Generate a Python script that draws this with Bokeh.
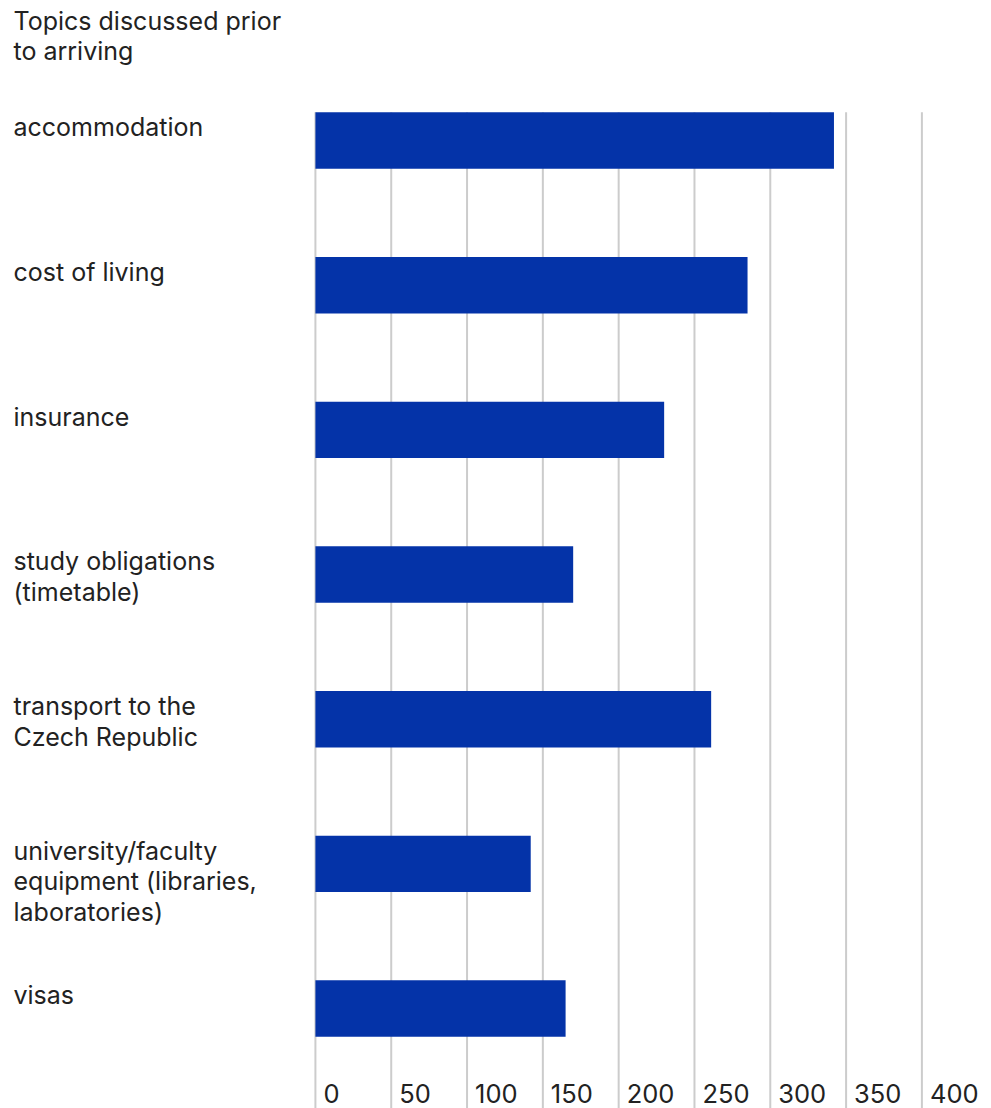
from bokeh.plotting import figure
from bokeh.models import Range1d, ColumnDataSource, LabelSet, Label
from bokeh.core.properties import value
from bokeh.embed import file_html
from bokeh.resources import INLINE

# ---- data ----
title_text = "Topics discussed prior\nto arriving"
categories = [
    "accommodation",
    "cost of living",
    "insurance",
    "study obligations\n(timetable)",
    "transport to the\nCzech Republic",
    "university/faculty\nequipment (libraries,\nlaboratories)",
    "visas",
]
values = [342, 285, 230, 170, 261, 142, 165]
tick_values = [0, 50, 100, 150, 200, 250, 300, 350, 400]
tick_labels = ["0", "50", "100", "150", "200", "250", "300", "350", "400"]

# ---- layout ----
W, H = 991, 1108
FONT = "Inter"
FS = "25px"
TICK_FS = "25.5px"
LH = 1.02
TEXT_COLOR = "#222222"
BAR_COLOR = "#0433a8"
GRID_COLOR = "#cccccc"

n = len(categories)
idx = list(range(n))
bar_h = 0.39

p = figure(width=W, height=H, output_backend="svg", toolbar_location=None,
           x_range=Range1d(-207.7, 445.9), y_range=Range1d(6.691, -0.968),
           min_border=0, min_border_left=0, min_border_right=0,
           min_border_top=0, min_border_bottom=0)
p.axis.visible = False
p.grid.visible = False
p.outline_line_color = None
p.background_fill_color = "white"
p.border_fill_color = "white"

# vertical grid lines from top of first bar to bottom
g_top = idx[0] - bar_h / 2
g_bot = p.y_range.start
p.segment(x0=tick_values, x1=tick_values, y0=[g_top] * len(tick_values),
          y1=[g_bot] * len(tick_values), line_color=GRID_COLOR, line_width=2)

# bars
src = ColumnDataSource(dict(y=idx, right=values, cat=categories,
                            top=[i - bar_h / 2 for i in idx]))
p.hbar(y="y", left=0, right="right", height=bar_h, source=src,
       fill_color=BAR_COLOR, line_color=None)

# category labels (left aligned)
labels = LabelSet(x=13, x_units="screen", y="top", y_units="data", text="cat",
                  source=src, text_font=value(FONT), text_font_size=value(FS),
                  text_color=TEXT_COLOR, text_align="left",
                  text_baseline="top", text_line_height=LH, y_offset=0)
p.add_layout(labels)

# title
p.add_layout(Label(x=13, x_units="screen", y=-0.968, y_units="data",
                   text=title_text, text_font=FONT, text_font_size=FS,
                   text_color=TEXT_COLOR, text_align="left",
                   text_baseline="top", text_line_height=LH, y_offset=-5))

# tick labels at bottom, right of gridline
tsrc = ColumnDataSource(dict(x=tick_values, t=tick_labels,
                             y=[n - 1 + 0.585] * len(tick_values)))
p.text(x="x", y="y", text="t", source=tsrc, text_font=value(FONT),
       text_font_size=value(TICK_FS), text_color=TEXT_COLOR, text_align="left",
       text_baseline="middle", x_offset=8)

open("out.html", "w").write(file_html(p, INLINE))
